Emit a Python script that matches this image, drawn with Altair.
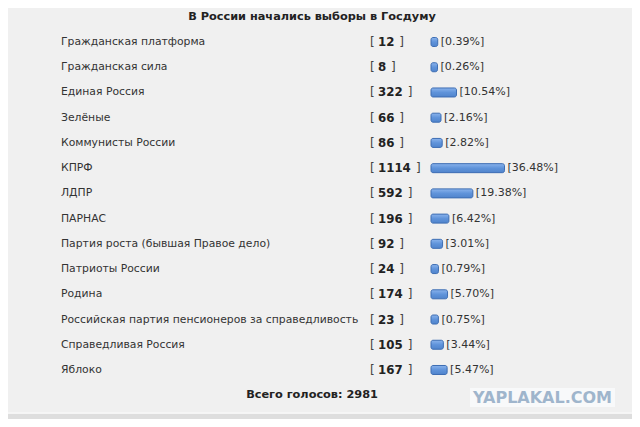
import altair as alt
import pandas as pd

# ---- data ----
parties = [
    "Гражданская платформа",
    "Гражданская сила",
    "Единая Россия",
    "Зелёные",
    "Коммунисты России",
    "КПРФ",
    "ЛДПР",
    "ПАРНАС",
    "Партия роста (бывшая Правое дело)",
    "Патриоты России",
    "Родина",
    "Российская партия пенсионеров за справедливость",
    "Справедливая Россия",
    "Яблоко",
]
votes = [12, 8, 322, 66, 86, 1114, 592, 196, 92, 24, 174, 23, 105, 167]
percents = [0.39, 0.26, 10.54, 2.16, 2.82, 36.48, 19.38, 6.42, 3.01, 0.79, 5.70, 0.75, 3.44, 5.47]

title_text = "В России начались выборы в Госдуму"
total_prefix = "Всего голосов: "
footer_text = "Вы уже проголосовали в этом опросе"
watermark = "YAPLAKAL.COM"

df = pd.DataFrame({"party": parties, "votes": votes, "pct": percents})

FONT = "DejaVu Sans"
BG = "#f0f0f0"

y_enc = alt.Y("party:N", sort=parties, axis=None,
              scale=alt.Scale(paddingInner=0, paddingOuter=0))
pct_scale = alt.Scale(domain=[0, 100], range=[423, 608])

base = alt.Chart(df).transform_calculate(
    start="0",
    digits="length(toString(datum.votes))",
    pctlabel="'[' + format(datum.pct, '.2f') + '%]'",
)

labels = base.mark_text(align="left", baseline="middle", font=FONT,
                        fontSize=10.8, color="#333333").encode(
    x=alt.value(53), y=y_enc, text="party:N")

lbr = base.mark_text(align="left", baseline="middle", font=FONT,
                     fontSize=12, color="#444444").encode(
    x=alt.value(362), y=y_enc, text=alt.value("["))

nums = base.mark_text(align="left", baseline="middle", font=FONT,
                      fontSize=11.8, fontWeight="bold", color="#222222").encode(
    x=alt.value(370), y=y_enc, text=alt.Text("votes:Q", format="d"))

rbr = base.mark_text(align="left", baseline="middle", font=FONT,
                     fontSize=12, color="#444444").encode(
    x=alt.X("digits:Q", axis=None,
            scale=alt.Scale(domain=[1, 4], range=[383, 408])),
    y=y_enc, text=alt.value("]"))

grad = alt.Gradient(
    gradient="linear",
    stops=[alt.GradientStop(color="#8ab3ec", offset=0),
           alt.GradientStop(color="#5f93da", offset=0.5),
           alt.GradientStop(color="#5084cc", offset=1)],
    x1=0, x2=0, y1=0, y2=1,
)

bars = base.mark_bar(size=9, cornerRadius=2, stroke="#3d6db3", strokeWidth=1,
                     x2Offset=6, color=grad).encode(
    x=alt.X("start:Q", scale=pct_scale, axis=None),
    x2="pct:Q",
    y=y_enc,
)

pct_text = base.mark_text(align="left", baseline="middle", font=FONT,
                          fontSize=11, dx=9, color="#333333").encode(
    x=alt.X("pct:Q", scale=pct_scale, axis=None),
    y=y_enc, text="pctlabel:N")

title = alt.Chart(pd.DataFrame({"t": [title_text]})).mark_text(
    align="center", baseline="middle", font=FONT, fontSize=11.3,
    fontWeight="bold", color="#222222").encode(
    x=alt.value(304), y=alt.value(-12.5), text="t:N")

total = alt.Chart(df).transform_aggregate(
    total="sum(votes)"
).transform_calculate(
    label=f"'{total_prefix}' + datum.total"
).mark_text(align="center", baseline="middle", font=FONT, fontSize=11.3,
            fontWeight="bold", color="#222222").encode(
    x=alt.value(304), y=alt.value(365.5), text="label:N")

wm_box = alt.Chart(pd.DataFrame({"w": [watermark]})).mark_rect(
    color="#f8f9fa").encode(
    x=alt.value(462), x2=alt.value(607), y=alt.value(358.6), y2=alt.value(377.6))

wm_text = alt.Chart(pd.DataFrame({"w": [watermark]})).mark_text(
    align="center", baseline="middle", font=FONT, fontSize=16,
    fontWeight="bold", color="#9fb5cc").encode(
    x=alt.value(534.5), y=alt.value(368.5), text="w:N")

footer_line = alt.Chart(pd.DataFrame({"f": [footer_text]})).mark_rule(
    color="#fbfbfb", strokeWidth=1).encode(
    x=alt.value(0), x2=alt.value(624), y=alt.value(383.5))

footer_box = alt.Chart(pd.DataFrame({"f": [footer_text]})).mark_rect(
    color="#dedede").encode(
    x=alt.value(0), x2=alt.value(624), y=alt.value(384.5), y2=alt.value(400))

chart = alt.layer(
    footer_line, footer_box, wm_box, wm_text, title, total,
    labels, lbr, nums, rbr, bars, pct_text,
).resolve_scale(x="independent").properties(
    width=624,
    height=353.2,
    padding={"left": 0, "top": 21.4, "right": 0, "bottom": 36.4},
    autosize=alt.AutoSizeParams(type="none"),
    background=BG,
).configure_view(strokeWidth=0)

chart.save("out.html", embed_options={"renderer": "svg", "actions": False})
